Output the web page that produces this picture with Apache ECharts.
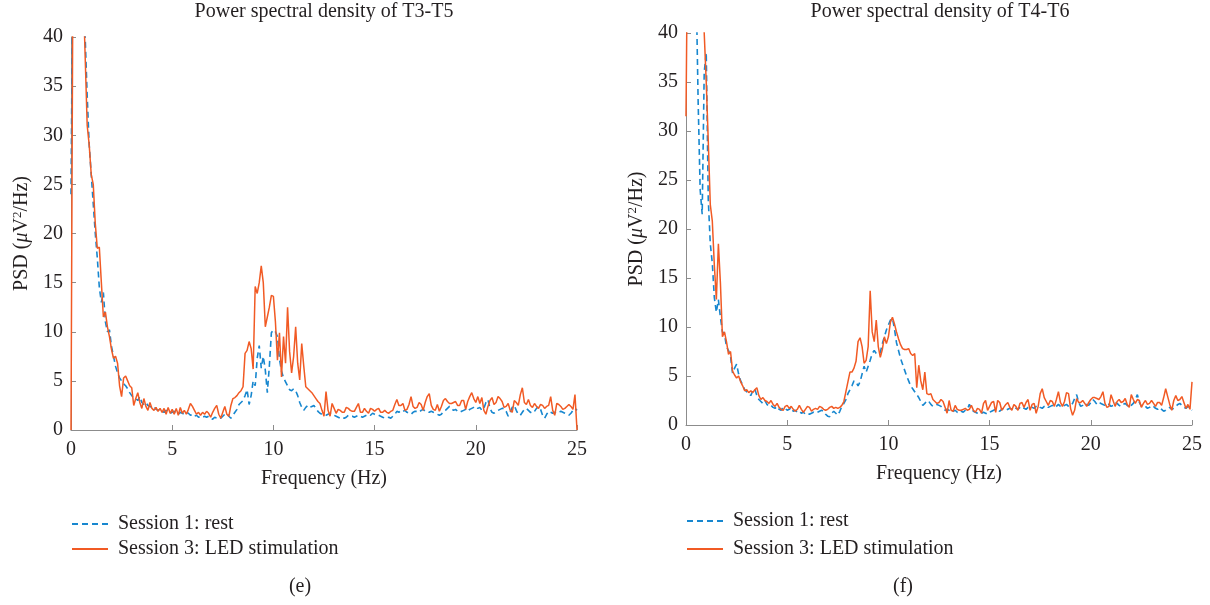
<!DOCTYPE html>
<html>
<head>
<meta charset="utf-8">
<script src="https://cdn.jsdelivr.net/npm/echarts@6/dist/echarts.min.js"></script>
<style>html,body{margin:0;padding:0;background:#fff}#c{width:1210px;height:605px}</style>
</head>
<body>
<div id="c"></div>
<script>
// Frequency grid (Hz), 0.1 Hz resolution, 0 to 25
const freq = Array.from({length: 251}, (_, i) => +(i * 0.1).toFixed(1));
const xTicks = [0, 5, 10, 15, 20, 25];
const yTicks = [0, 5, 10, 15, 20, 25, 30, 35, 40];
const seriesNames = ['Session 1: rest', 'Session 3: LED stimulation'];
const titles = ['Power spectral density of T3-T5', 'Power spectral density of T4-T6'];
const captions = ['(e)', '(f)'];

// T3-T5, Session 1: rest
const t3t5Rest = [
24,50,70,75,70,60,48,40,34,29,
26,23,20,17.5,14.5,13,14,11,10,10.2,
8.5,7.5,6.5,5.8,5.3,5.0,4.7,4.5,4.2,3.8,
3.5,3.3,3.2,3.0,3.4,
2.8,2.6,2.8,2.5,2.4,2.3,2.4,2.1,2.0,2.1,
1.9,1.8,2.0,1.8,1.7,1.8,1.9,1.7,1.6,1.8,
1.7,1.6,1.8,1.7,1.5,1.6,
1.4,1.5,1.3,1.4,1.3,1.4,1.3,1.4,1.2,1.1,
1.3,1.2,1.3,1.2,1.4,1.6,1.7,1.4,1.2,1.5,
1.8,2.1,2.6,2.8,3.0,3.5,4.1,2.6,3.5,5.0,
4.5,7.3,8.6,6.3,7.5,6.1,3.8,6.5,9.9,10.2,
10.0,9.5,7.2,6.0,5.3,4.9,4.5,4.1,4.0,4.2,
4.0,3.5,2.8,2.3,2.0,2.3,2.5,2.3,2.4,2.5,
2.2,1.9,1.7,1.6,1.5,1.5,1.6,1.7,1.7,1.5,
1.4,1.3,1.2,1.3,
1.2,1.3,1.5,1.4,1.4,1.3,1.4,1.5,1.4,1.3,
1.4,1.5,1.6,1.5,1.7,1.6,1.5,1.5,1.4,1.3,
1.2,1.2,1.3,1.2,1.4,1.6,1.9,1.8,2.0,1.9,
2.0,1.8,1.7,1.6,1.8,1.9,1.9,1.8,2.0,2.1,
1.9,1.9,1.8,1.9,1.8,1.7,1.6,1.5,1.6,1.9,
2.0,2.2,2.4,2.2,2.0,2.1,1.9,1.8,1.9,2.0,
2.1,1.9,2.1,2.2,2.3,2.4,2.2,2.3,2.0,2.2,
2.8,3.1,2.2,1.8,1.7,1.9,2.0,2.1,2.2,2.2,
1.9,1.4,1.8,2.3,2.5,2.0,1.6,1.5,1.8,2.1,
2.2,2.0,1.8,1.7,1.9,2.2,2.4,2.1,1.5,1.2,
1.6,1.9,1.8,1.7,1.8,1.7,1.8,1.9,1.8,1.7,
1.6,1.5,1.7,2.0,2.2,2.0
];

// T3-T5, Session 3: LED stimulation
const t3t5Led = [
0,50,65,70,65,55,45,38,31,29,
26,25,21,18.5,18.6,15,11.5,12,10.5,9.5,
8.2,7.3,7.5,6.8,4.5,3.4,5.3,5.5,5.0,4.5,
4.3,2.5,3.2,3.8,2.8,
2.2,3.2,2.4,2.0,2.8,2.2,2.0,2.3,1.9,2.2,
1.8,2.2,1.6,2.3,1.7,2.1,1.6,2.2,1.5,2.3,
1.7,2.0,1.6,2.1,2.7,2.4,
2.0,1.6,1.8,1.5,1.8,1.6,1.9,1.7,1.3,1.8,
2.2,2.5,1.6,1.2,1.8,2.4,1.6,1.4,2.5,3.2,
3.3,3.5,3.8,4.0,4.4,7.8,8.1,9.0,8.3,6.2,
14.6,13.9,15.0,16.7,15.0,10.5,11.5,12.5,13.7,13.6,
11.0,7.1,9.9,5.4,9.5,6.8,12.5,8.0,5.8,7.5,
10.5,6.8,5.1,8.8,6.5,4.4,4.2,4.0,3.8,3.5,
3.2,2.9,2.7,2.0,1.4,3.9,2.0,1.4,2.7,2.2,
1.7,2.1,2.0,1.8,
1.8,2.3,2.2,2.0,1.9,1.9,2.3,2.7,1.8,1.8,
2.2,1.9,1.7,2.2,2.1,1.9,2.1,2.2,1.8,1.8,
2.0,1.8,1.7,1.9,2.0,2.6,3.1,2.5,2.5,2.7,
2.0,2.1,2.6,3.4,2.4,2.2,2.3,2.8,2.6,2.0,
2.8,3.4,3.7,2.5,2.1,2.0,2.6,1.9,2.4,3.0,
3.2,2.9,2.7,2.7,2.8,2.9,2.5,2.5,3.0,3.0,
2.1,2.9,3.4,3.8,3.2,2.8,3.4,2.7,3.3,2.0,
1.6,2.4,3.0,3.3,2.6,2.8,3.4,3.2,2.9,2.3,
2.4,2.7,2.0,1.8,3.0,2.8,2.5,3.6,4.3,2.8,
2.6,3.1,2.5,2.3,2.7,2.4,2.2,2.6,2.5,2.2,
2.4,2.5,3.4,2.0,1.5,2.7,2.6,2.4,2.1,2.2,
2.4,2.6,2.4,2.1,3.6,0
];

// T4-T6, Session 1: rest
const t4t6Rest = [
60,80,90,80,62,45,33,24,21.5,36,
38,23,18.5,16.5,13,11.5,12.8,11,9.5,9.3,
8.0,7.6,7.0,5.3,5.8,6.2,5.2,4.5,4.1,3.6,
3.4,3.3,3.0,3.5,3.7,3.0,2.6,2.4,2.2,2.5,
2.1,1.9,2.0,1.8,1.7,1.9,1.6,1.5,1.8,1.7,
1.5,1.6,1.8,1.4,1.5,1.3,1.4,1.2,1.3,1.1,
1.2,1.1,1.2,1.3,1.2,1.3,1.4,1.5,1.4,1.1,
0.9,0.85,1.2,1.4,1.2,1.0,1.4,1.9,2.2,2.6,
3.2,3.6,4.0,4.5,4.4,4.0,4.4,5.2,6.0,5.4,
6.0,6.6,7.3,7.6,7.3,7.2,7.4,8.3,9.0,9.7,
10.2,10.7,10.9,9.8,8.4,7.6,6.8,6.2,5.6,5.0,
4.5,4.0,3.7,3.4,3.1,2.8,2.4,2.0,2.2,2.5,
2.4,2.1,1.9,2.0,2.1,2.0,1.9,1.7,1.5,1.6,
1.5,1.3,1.4,1.5,1.3,1.2,1.4,1.3,1.5,1.6,
2.1,1.7,1.4,1.3,1.2,1.1,1.2,1.3,1.2,1.1,
1.3,1.4,1.5,1.6,1.5,1.4,1.6,1.7,1.5,1.6,
1.7,1.6,1.8,1.7,1.6,1.8,1.9,1.7,1.6,1.8,
1.9,1.8,1.7,1.9,2.0,1.8,1.7,1.9,2.0,1.8,
1.9,2.0,1.8,1.9,2.1,1.9,1.8,2.0,2.1,1.9,
2.0,2.2,2.7,3.1,2.3,1.9,2.0,2.2,2.1,2.0,
2.3,2.6,2.4,2.1,2.3,2.2,2.1,2.0,2.2,2.1,
1.9,2.0,2.3,2.2,2.0,1.9,2.1,2.2,2.0,1.8,
2.0,2.2,2.6,3.1,2.3,1.9,2.0,1.9,1.7,1.8,
2.0,1.9,1.7,1.6,1.8,1.6,1.4,1.5,1.7,1.8,
1.6,1.7,1.9,2.1,2.2,2.0,1.8,1.7,1.9,1.8,
1.5
];

// T4-T6, Session 3: LED stimulation
const t4t6Led = [
31.5,55,70,80,80,72,62,52,44,40,
35,29,22.5,20.8,16.3,12.8,18.5,14.5,9.0,9.5,
8.5,7.2,7.5,5.5,5.1,4.8,5.0,4.4,4.0,3.5,
3.6,3.3,3.5,3.3,3.6,3.8,3.0,2.6,2.8,2.5,
2.4,2.2,2.5,2.1,1.9,2.2,1.8,1.6,1.5,1.9,
2.0,1.7,1.9,1.6,1.4,1.6,2.0,1.6,1.3,1.6,
1.9,1.8,1.4,1.6,1.7,1.6,1.9,1.8,1.6,1.5,
1.6,1.8,1.9,1.7,1.8,1.7,1.8,2.0,2.4,3.4,
4.4,5.4,5.4,5.8,6.5,8.5,8.9,8.0,6.3,6.6,
8.0,13.7,9.5,8.5,10.7,8.0,6.9,7.7,9.0,8.3,
9.0,10.5,11.0,10.3,9.5,8.8,8.2,7.8,7.7,7.7,
7.8,7.3,7.1,7.3,3.8,6.1,4.5,3.6,5.4,3.2,
3.1,3.2,2.6,2.4,2.2,2.3,2.6,2.4,1.8,1.2,
2.5,1.5,1.4,2.0,1.6,1.5,1.5,1.6,1.7,1.5,
1.6,2.0,1.5,1.3,1.7,1.6,1.2,2.2,2.5,1.5,
1.9,2.3,2.4,1.3,2.5,2.3,1.5,1.8,2.1,2.3,
1.8,1.5,2.1,1.9,1.5,2.2,2.3,1.8,2.3,2.6,
1.5,2.1,2.2,1.2,1.9,3.2,3.7,2.8,2.4,2.0,
2.5,2.4,1.9,2.6,3.4,2.3,1.9,2.4,3.3,3.2,
1.7,1.0,1.5,2.7,2.3,2.3,2.5,2.2,1.9,2.3,
2.6,2.8,2.8,2.7,2.6,2.9,3.4,2.2,1.8,1.9,
3.1,2.5,1.9,2.4,2.6,2.3,2.4,2.7,2.1,1.8,
3.1,2.6,2.2,2.6,2.5,1.8,2.2,2.5,2.1,2.2,
2.5,2.2,1.9,2.3,2.3,2.0,2.8,3.7,2.9,2.1,
1.5,2.5,3.0,2.5,2.6,2.9,2.3,1.7,2.1,1.6,
4.4
];

const FONT = '"Liberation Serif", "DejaVu Serif", serif';
const TXT = '#231f20';
const AX = '#8c8c8c';
const BLUE = '#1787cf';
const ORANGE = '#f15a24';
const FS = 20;

const pairs = arr => freq.map((f, i) => [f, arr[i]]);

const grids = [
  {left: 71, top: 37, width: 506, height: 393},
  {left: 686, top: 33, width: 506, height: 392}
];

function xAxis(gi) {
  return {
    type: 'value', gridIndex: gi, min: xTicks[0], max: xTicks[xTicks.length - 1], interval: 5,
    name: 'Frequency (Hz)', nameLocation: 'middle', nameGap: 39,
    nameTextStyle: {fontFamily: FONT, fontSize: FS, color: TXT},
    axisLine: {show: true, lineStyle: {color: AX, width: 1}},
    axisTick: {show: true, inside: true, length: 5, lineStyle: {color: AX}},
    axisLabel: {fontFamily: FONT, fontSize: FS, color: TXT, margin: 10},
    splitLine: {show: false}
  };
}
function yAxis(gi) {
  return {
    type: 'value', gridIndex: gi, min: yTicks[0], max: yTicks[yTicks.length - 1], interval: 5,
    name: '{t|PSD (}{i|μ}{t|V}{s|2}{t|/Hz)}', nameLocation: 'middle', nameGap: 38,
    nameTextStyle: {
      fontFamily: FONT, fontSize: FS, color: TXT,
      rich: {
        t: {fontFamily: FONT, fontSize: FS, color: TXT, lineHeight: 22},
        i: {fontFamily: FONT, fontSize: FS, color: TXT, fontStyle: 'italic', lineHeight: 22},
        s: {fontFamily: FONT, fontSize: 13, color: TXT, lineHeight: 22, verticalAlign: 'top', padding: [0, 0, 9, 0]}
      }
    },
    axisLine: {show: true, lineStyle: {color: AX, width: 1}},
    axisTick: {show: true, inside: true, length: 5, lineStyle: {color: AX}},
    axisLabel: {fontFamily: FONT, fontSize: FS, color: TXT, margin: 8},
    splitLine: {show: false}
  };
}

const data = [[t3t5Rest, t3t5Led], [t4t6Rest, t4t6Led]];
const series = [];
data.forEach((pair, gi) => {
  series.push({
    name: seriesNames[0], type: 'line', xAxisIndex: gi, yAxisIndex: gi,
    data: pairs(pair[0]), symbol: 'none', clip: true, animation: false,
    lineStyle: {color: BLUE, width: 1.6, type: [6, 4]}, itemStyle: {color: BLUE}
  });
  series.push({
    name: seriesNames[1], type: 'line', xAxisIndex: gi, yAxisIndex: gi,
    data: pairs(pair[1]), symbol: 'none', clip: true, animation: false,
    lineStyle: {color: ORANGE, width: 1.5}, itemStyle: {color: ORANGE}
  });
});

function legend(left, top, gap) {
  return {
    data: seriesNames, orient: 'vertical', left: left, top: top, padding: 0,
    itemWidth: 36, itemHeight: 14, itemGap: gap, selectedMode: false,
    itemStyle: {opacity: 0},
    textStyle: {fontFamily: FONT, fontSize: FS, color: TXT, padding: [0, 0, 0, 5], lineHeight: 20}
  };
}

function txt(x, y, s) {
  return {type: 'text', x: x, y: y, silent: true,
    style: {text: s, fontFamily: FONT, fontSize: FS, fill: TXT, align: 'center', verticalAlign: 'middle', textAlign: 'center', textVerticalAlign: 'middle'}};
}

const chart = echarts.init(document.getElementById('c'), null, {renderer: 'canvas'});
chart.setOption({
  backgroundColor: '#fff',
  animation: false,
  grid: grids,
  xAxis: [xAxis(0), xAxis(1)],
  yAxis: [yAxis(0), yAxis(1)],
  legend: [legend(71, 514, 5), legend(686, 511, 8)],
  series: series,
  graphic: [
    txt(324, 12, titles[0]), txt(940, 12, titles[1]),
    txt(300, 587, captions[0]), txt(903, 587, captions[1])
  ]
});
</script>
</body>
</html>
